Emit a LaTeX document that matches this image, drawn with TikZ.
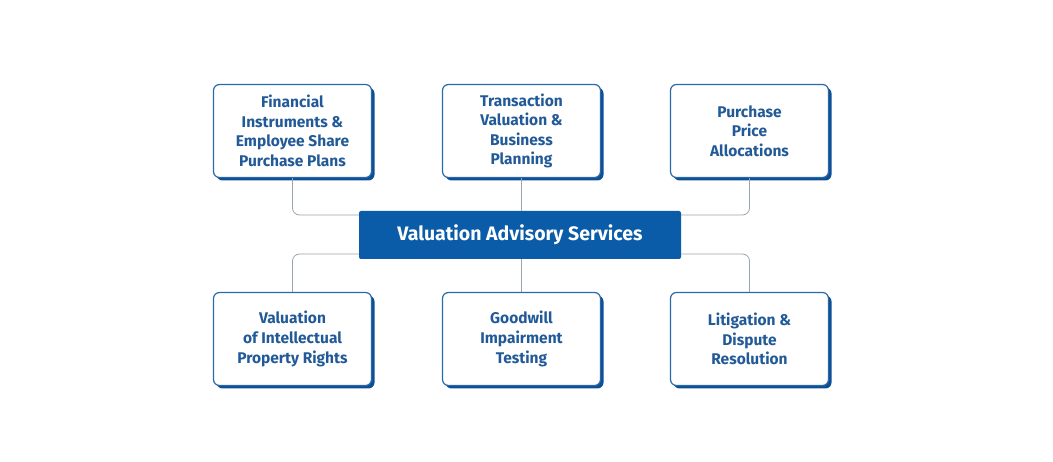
\documentclass[tikz,border=0pt]{standalone}
\usepackage{fontspec}
\setmainfont{Fira Sans}
\usetikzlibrary{shadows,calc}
\definecolor{boxblue}{HTML}{2A68AC}
\definecolor{shadowblue}{HTML}{0E4F94}
\definecolor{textblue}{HTML}{225A98}
\definecolor{centerblue}{HTML}{0B5CA8}
\definecolor{conngray}{HTML}{9AA4AE}
\tikzset{
  svc/.style={draw=boxblue, line width=1.2pt, fill=white, rounded corners=6pt,
    minimum width=158pt, minimum height=93pt, align=center, inner sep=2pt,
    text=textblue, font=\bfseries\fontsize{15.5}{19.6}\selectfont,
    copy shadow={shadow xshift=3pt, shadow yshift=-3pt, fill=shadowblue, draw=none}},
  hub/.style={fill=centerblue, rounded corners=2pt, minimum width=322pt, minimum height=48pt,
    text=white, font=\bfseries\fontsize{19.5}{22}\selectfont},
  conn/.style={draw=conngray, line width=0.8pt, rounded corners=7pt}
}
\begin{document}
\begin{tikzpicture}[x=1pt,y=-1pt]
\useasboundingbox (0,0) rectangle (1053,462);
\node[hub] (c) at (520,235) {Valuation Advisory Services};
\node[svc] (a1) at (292.5,131) {Financial\\Instruments \&\\Employee Share\\Purchase Plans};
\node[svc] (a2) at (521.5,131) {Transaction\\Valuation \&\\Business\\Planning};
\node[svc] (a3) at (749.5,131) {Purchase\\Price\\Allocations};
\node[svc] (b1) at (292.5,339) {Valuation\\of Intellectual\\Property Rights};
\node[svc] (b2) at (521.5,339) {Goodwill\\Impairment\\Testing};
\node[svc] (b3) at (749.5,339) {Litigation \&\\Dispute\\Resolution};
\draw[conn] (a1.south) |- ($(c.west)+(0,-20)$);
\draw[conn] (a3.south) |- ($(c.east)+(0,-20)$);
\draw[conn] (a2.south) -- (a2.south |- c.north);
\draw[conn] (b1.north) |- ($(c.west)+(0,19)$);
\draw[conn] (b3.north) |- ($(c.east)+(0,19)$);
\draw[conn] (b2.north) -- (b2.north |- c.south);
\end{tikzpicture}
\end{document}
